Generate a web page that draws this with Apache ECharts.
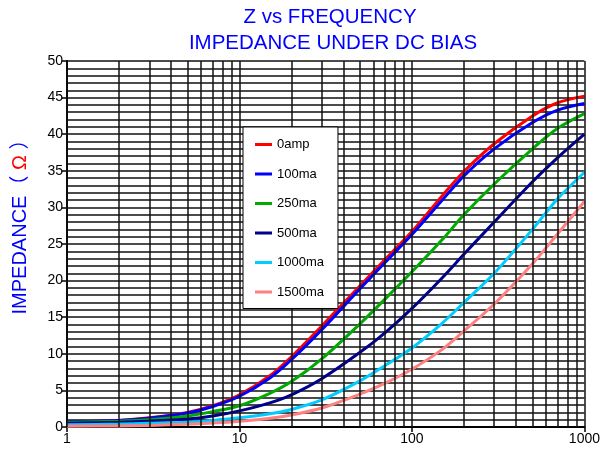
<!DOCTYPE html>
<html>
<head>
<meta charset="utf-8">
<script src="https://cdn.jsdelivr.net/npm/echarts@6/dist/echarts.min.js"></script>
<style>html,body{margin:0;padding:0;background:#fff}#c{width:603px;height:454px}</style>
</head>
<body>
<div id="c"></div>
<script>
const freq = [1,2,3,5,7,10,15,20,30,50,70,100,150,200,300,500,700,1000];
const z0amp   = [0.7,0.9,1.25,2.0,2.9,4.4,7.0,9.6,13.8,19.3,22.9,26.7,31.6,34.9,38.7,42.5,44.3,45.2];
const z100ma  = [0.7,0.9,1.2,1.9,2.8,4.2,6.7,9.2,13.3,18.9,22.5,26.3,31.0,34.3,38.0,41.6,43.3,44.2];
const z250ma  = [0.6,0.8,1.0,1.5,2.1,2.9,4.6,6.2,9.3,14.1,17.5,21.2,25.6,29.0,33.2,38.0,40.8,42.8];
const z500ma  = [0.5,0.65,0.8,1.1,1.5,2.2,3.3,4.4,6.6,10.2,12.9,16.2,20.4,23.6,28.0,33.5,36.8,40.0];
const z1000ma = [0.3,0.4,0.5,0.65,0.9,1.25,1.8,2.4,3.7,6.3,8.4,10.8,14.2,17.0,21.0,27.0,31.2,34.8];
const z1500ma = [0.1,0.15,0.22,0.38,0.55,0.8,1.2,1.65,2.6,4.5,6.0,7.9,10.6,13.1,16.8,22.3,26.4,30.8];
const seriesNames = ['0amp','100ma','250ma','500ma','1000ma','1500ma'];
const seriesValues = [z0amp,z100ma,z250ma,z500ma,z1000ma,z1500ma];
const seriesColors = ['#ff0000','#0000ff','#00aa00','#00008b','#00ccff','#ff8080'];
const titleLines = ['Z vs FREQUENCY','IMPEDANCE UNDER DC BIAS'];

// log grid positions (1..9 per decade)
const vGrid = [];
for (let d = 1; d <= 100; d *= 10) for (let k = 1; k <= 9; k++) vGrid.push(k * d);
vGrid.push(1000);

const chart = echarts.init(document.getElementById('c'));
const FONT = '"Liberation Sans", Arial, sans-serif';
const lines = seriesNames.map((n, i) => ({
  name: n, type: 'line', smooth: 0.3, symbol: 'none', z: 3,
  lineStyle: {color: seriesColors[i], width: 3},
  itemStyle: {color: seriesColors[i]},
  data: freq.map((f, j) => [f, seriesValues[i][j]])
}));
lines.push({
  name: 'grid', type: 'line', data: [], z: 1, silent: true,
  markLine: {
    silent: true, symbol: 'none', animation: false,
    label: {show: false},
    lineStyle: {color: '#111', width: 1.5, type: 'solid'},
    emphasis: {disabled: true},
    data: vGrid.map(v => ({xAxis: v}))
  }
});

chart.setOption({
  animation: false,
  backgroundColor: '#fff',
  grid: {left: 67, right: 15, top: 61, bottom: 27},
  xAxis: {
    type: 'log', logBase: 10, min: 1, max: 1000,
    axisLine: {show: true, lineStyle: {color: '#000', width: 2}},
    axisTick: {show: true, length: 5, lineStyle: {color: '#000', width: 1.5}},
    axisLabel: {fontSize: 14, color: '#000', margin: 5, fontFamily: FONT, formatter: v => String(v)},
    splitLine: {show: false}, minorTick: {show: false}
  },
  yAxis: {
    type: 'value', min: 0, max: 50, interval: 5,
    axisLine: {show: true, lineStyle: {color: '#000', width: 2}},
    axisTick: {show: true, length: 5, lineStyle: {color: '#000', width: 1.5}},
    axisLabel: {fontSize: 14, color: '#000', margin: 4, fontFamily: FONT},
    splitLine: {show: true, lineStyle: {color: '#111', width: 1.5}},
    minorTick: {show: false, splitNumber: 5},
    minorSplitLine: {show: true, lineStyle: {color: '#111', width: 1.5}}
  },
  legend: {
    data: seriesNames, orient: 'vertical', left: 243, top: 127,
    backgroundColor: '#fff', borderColor: '#000', borderWidth: 1,
    padding: [11, 14, 10, 12], itemGap: 16.5, itemWidth: 17, itemHeight: 3,
    icon: 'rect', z: 10,
    textStyle: {fontSize: 13, color: '#000', fontFamily: FONT}
  },
  graphic: [
    {type: 'text', x: 330, y: 17, style: {text: titleLines[0], fill: '#0000ff', fontSize: 20.5, fontFamily: FONT, align: 'center', verticalAlign: 'middle'}},
    {type: 'text', x: 333, y: 43, style: {text: titleLines[1], fill: '#0000ff', fontSize: 20.5, fontFamily: FONT, align: 'center', verticalAlign: 'middle'}},
    {type: 'text', x: 20, y: 222, rotation: Math.PI / 2,
     style: {text: '{b|IMPEDANCE（ }{r|Ω}{b| ）}', align: 'center', verticalAlign: 'middle',
       rich: {b: {fill: '#0000ff', fontSize: 20, fontFamily: FONT + ', "Noto Sans CJK JP"'},
              r: {fill: '#ff0000', fontSize: 20, fontFamily: FONT}}}}
  ],
  series: lines
});
</script>
</body>
</html>
